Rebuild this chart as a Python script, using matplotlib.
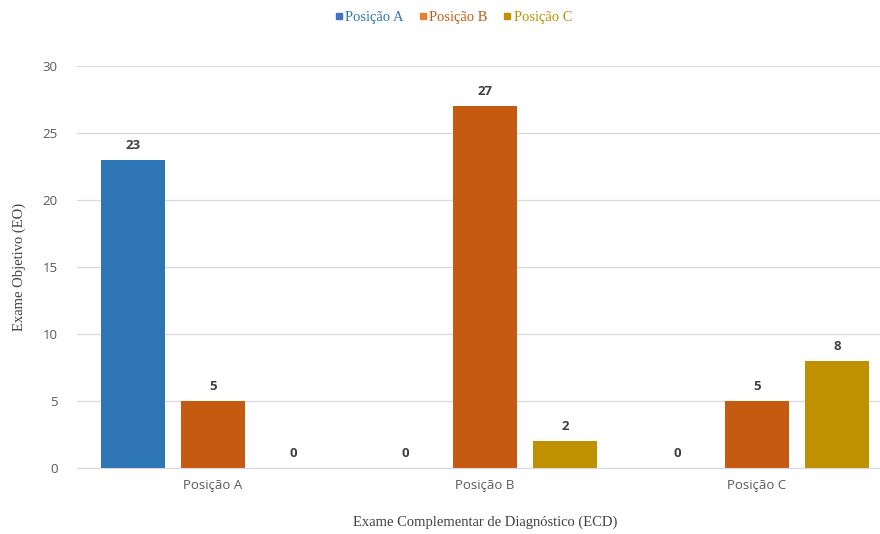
import numpy as np
import matplotlib.pyplot as plt
from matplotlib.lines import Line2D

categories = ["Posição A", "Posição B", "Posição C"]
series = ["Posição A", "Posição B", "Posição C"]
values_a = [23, 0, 0]
values_b = [5, 27, 5]
values_c = [0, 2, 8]
yticks = [0, 5, 10, 15, 20, 25, 30]

bar_colors = ["#2E75B6", "#C55A11", "#BF9000"]
legend_colors = ["#4472C4", "#ED7D31", "#BF9000"]
text_colors = ["#2E75B6", "#C55A11", "#BF9000"]

fig = plt.figure(figsize=(8.8, 5.34), dpi=100)
# plot area runs slightly past the right edge, as in the original
ax = fig.add_axes([77 / 880, 0.1236, 816 / 880, 0.7528])

x = np.arange(len(categories))
w = 0.235
off = 0.294
for i, vals in enumerate([values_a, values_b, values_c]):
    pos = x + (i - 1) * off
    ax.bar(pos, vals, width=w, color=bar_colors[i], zorder=3)
    for p, v in zip(pos, vals):
        ax.text(p, v + 0.6, str(v), ha="center", va="bottom", fontsize=9.5,
                fontweight="bold", color="#404040", family="Open Sans")

ax.set_xlim(-0.5, 2.5)
ax.set_ylim(0, 30)
ax.set_yticks(yticks)
ax.yaxis.grid(True, color="#D9D9D9", lw=0.9, zorder=0)
ax.tick_params(axis="y", length=0, pad=14, labelsize=9.5, labelcolor="#595959")
ax.tick_params(axis="x", length=0, pad=8, labelsize=9.5, labelcolor="#595959")
ax.set_xticks(x)
ax.set_xticklabels(categories)
for lab in ax.get_xticklabels() + ax.get_yticklabels():
    lab.set_family("Open Sans")
for s in ["top", "right", "left"]:
    ax.spines[s].set_visible(False)
ax.spines["bottom"].set_color("#D9D9D9")
ax.spines["bottom"].set_zorder(4)

ax.set_xlabel("Exame Complementar de Diagnóstico (ECD)", family="Liberation Serif",
              fontsize=10.5, color="#404040", labelpad=17)
ax.set_ylabel("Exame Objetivo (EO)", family="Liberation Serif",
              fontsize=10.5, color="#404040", labelpad=12)

handles = [Line2D([], [], marker="s", ls="", color=c, markersize=5) for c in legend_colors]
leg = fig.legend(handles, series, loc="upper center", bbox_to_anchor=(0.515, 1.005), ncol=3,
                 frameon=False, handlelength=0.6, handletextpad=0.15, columnspacing=1.0,
                 prop={"family": "Liberation Serif", "size": 10.5})
for t, c in zip(leg.get_texts(), text_colors):
    t.set_color(c)

fig.savefig("out.png", dpi=100)
